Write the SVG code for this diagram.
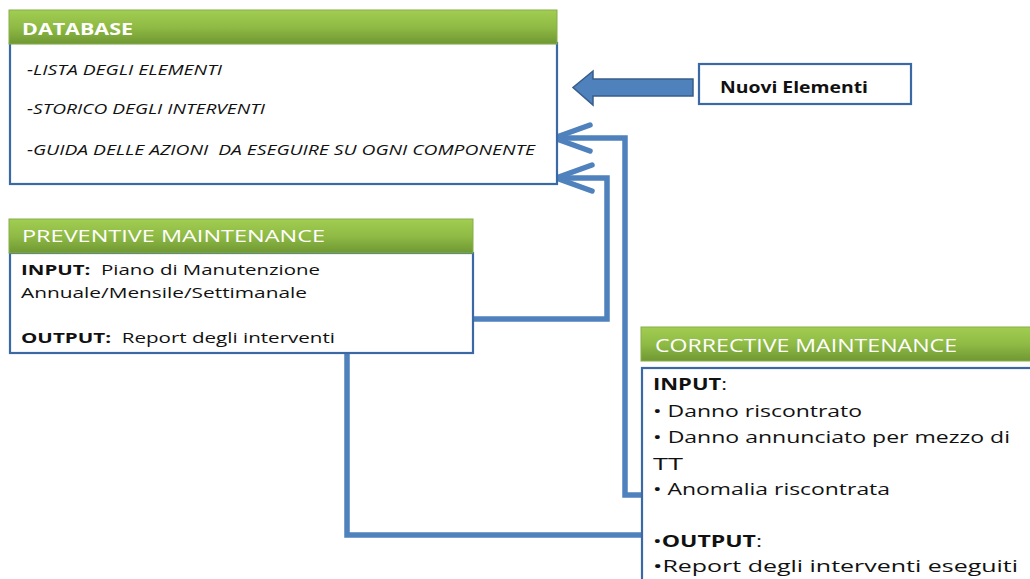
<svg xmlns="http://www.w3.org/2000/svg" width="1030" height="579" viewBox="0 0 1030 579">
  <defs>
    <linearGradient id="hdr" x1="0" y1="0" x2="0" y2="1">
      <stop offset="0" stop-color="#a2cd52"/>
      <stop offset="0.5" stop-color="#8fbb45"/>
      <stop offset="1" stop-color="#6f9833"/>
    </linearGradient>
    <marker id="head" viewBox="-42 -17 46 34" refX="0" refY="0" markerWidth="46" markerHeight="34" markerUnits="userSpaceOnUse" orient="auto" overflow="visible">
      <path d="M -36 -13 L 0 0 L -36 13" fill="none" stroke="#4f81bd" stroke-width="5.5" stroke-linecap="round" stroke-linejoin="round"/>
    </marker>
    <style>
      .hdr { fill: url(#hdr); stroke: #86ad4a; stroke-width: 1; }
      .body { fill: #ffffff; stroke: #3b69a5; stroke-width: 2.2; }
      .htxt { font-family: "Open Sans", "Noto Sans", sans-serif; fill: #ffffff; white-space: pre; }
      .txt { font-family: "Open Sans", "Noto Sans", sans-serif; fill: #111111; white-space: pre; }
      .it { font-style: italic; }
      .b { font-weight: bold; }
      .conn { fill: none; stroke: #4f81bd; stroke-width: 5.5; stroke-linejoin: miter; }
    </style>
  </defs>

  <!-- connectors -->
  <g id="connectors">
    <path class="conn" d="M 642 495 H 625 V 138 H 554" marker-end="url(#head)"/>
    <path class="conn" d="M 473 319 H 607 V 178 H 556" marker-end="url(#head)"/>
    <path class="conn" d="M 347 353 V 535 H 642"/>
    <path d="M 693 79 H 593 V 71 L 573 87.5 L 593 105 V 96 H 693 Z" fill="#4f81bd" stroke="#385d8a" stroke-width="1.5" stroke-linejoin="miter"/>
  </g>

  <!-- database -->
  <g id="database">
    <rect class="body" x="10" y="43" width="547" height="141"/>
    <rect class="hdr" x="9" y="10" width="548" height="34"/>
    <text class="htxt b" x="22" y="35" font-size="16.5" textLength="111" lengthAdjust="spacingAndGlyphs">DATABASE</text>
    <text class="txt it" x="27" y="75" font-size="14" textLength="195" lengthAdjust="spacingAndGlyphs">-LISTA DEGLI ELEMENTI</text>
    <text class="txt it" x="27" y="114" font-size="14" textLength="238" lengthAdjust="spacingAndGlyphs">-STORICO DEGLI INTERVENTI</text>
    <text class="txt it" x="27" y="155" font-size="14" textLength="508" lengthAdjust="spacingAndGlyphs">-GUIDA DELLE AZIONI  DA ESEGUIRE SU OGNI COMPONENTE</text>
  </g>

  <!-- new elements -->
  <g id="nuovi-elementi">
    <rect x="699" y="64" width="212" height="40" fill="#ffffff" stroke="#3b69a5" stroke-width="2.2"/>
    <text class="txt b" x="720" y="93" font-size="16" textLength="148" lengthAdjust="spacingAndGlyphs">Nuovi Elementi</text>
  </g>

  <!-- preventive maintenance -->
  <g id="preventive">
    <rect class="body" x="10" y="253" width="463" height="100"/>
    <rect class="hdr" x="9" y="219" width="464" height="34"/>
    <text class="htxt" x="22" y="242" font-size="17" textLength="303" lengthAdjust="spacingAndGlyphs">PREVENTIVE MAINTENANCE</text>
    <text class="txt" x="21" y="275" font-size="15" textLength="299" lengthAdjust="spacingAndGlyphs"><tspan class="b">INPUT:</tspan>  Piano di Manutenzione</text>
    <text class="txt" x="21" y="298" font-size="15" textLength="286" lengthAdjust="spacingAndGlyphs">Annuale/Mensile/Settimanale</text>
    <text class="txt" x="21" y="343" font-size="15" textLength="314" lengthAdjust="spacingAndGlyphs"><tspan class="b">OUTPUT:</tspan>  Report degli interventi</text>
  </g>

  <!-- corrective maintenance -->
  <g id="corrective">
    <rect class="body" x="642" y="368" width="400" height="230"/>
    <rect class="hdr" x="641" y="327" width="400" height="34"/>
    <text class="htxt" x="655" y="352" font-size="18" textLength="302" lengthAdjust="spacingAndGlyphs">CORRECTIVE MAINTENANCE</text>
    <text class="txt" x="653" y="390" font-size="16.5" textLength="74" lengthAdjust="spacingAndGlyphs"><tspan class="b">INPUT</tspan>:</text>
    <text class="txt" x="653" y="417" font-size="16.5" textLength="209" lengthAdjust="spacingAndGlyphs">• Danno riscontrato</text>
    <text class="txt" x="653" y="443" font-size="16.5" textLength="357" lengthAdjust="spacingAndGlyphs">• Danno annunciato per mezzo di</text>
    <text class="txt" x="653" y="470" font-size="16.5" textLength="30" lengthAdjust="spacingAndGlyphs">TT</text>
    <text class="txt" x="653" y="495" font-size="16.5" textLength="237" lengthAdjust="spacingAndGlyphs">• Anomalia riscontrata</text>
    <text class="txt" x="653" y="547" font-size="16.5" textLength="109" lengthAdjust="spacingAndGlyphs">•<tspan class="b">OUTPUT</tspan>:</text>
    <text class="txt" x="653" y="572" font-size="16.5" textLength="365" lengthAdjust="spacingAndGlyphs">•Report degli interventi eseguiti</text>
  </g>
</svg>
